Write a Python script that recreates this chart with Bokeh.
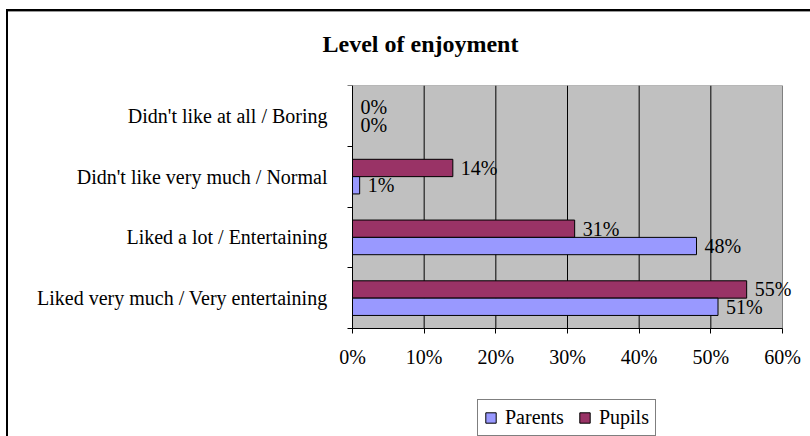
from bokeh.plotting import figure
from bokeh.models import (ColumnDataSource, Range1d, FixedTicker, LabelSet, Title,
                          Legend, LegendItem)
from bokeh.transform import dodge
from bokeh.core.properties import value
from bokeh.embed import file_html
from bokeh.resources import INLINE

# ---- data ----
categories = ["Liked very much / Very entertaining",
              "Liked a lot / Entertaining",
              "Didn't like very much / Normal",
              "Didn't like at all / Boring"]
parents = [51, 48, 1, 0]
pupils = [55, 31, 14, 0]
x_ticks = [0, 10, 20, 30, 40, 50, 60]
x_tick_labels = ["0%", "10%", "20%", "30%", "40%", "50%", "60%"]
series_names = ["Parents", "Pupils"]
title_text = "Level of enjoyment"

FONT = "Liberation Serif"
PARENTS_COLOR = "#9999FF"
PUPILS_COLOR = "#993366"
AREA_COLOR = "#C0C0C0"

n_cat = len(categories)
yc = [i + 0.5 for i in range(n_cat)]
bounds = [i for i in range(n_cat + 1)]
src = ColumnDataSource(dict(
    yc=yc, parents=parents, pupils=pupils,
    plab=[f"{v}%" for v in parents],
    ulab=[f"{v}%" for v in pupils],
))
grid_src = ColumnDataSource(dict(x=x_ticks[1:-1]))

BAR_H = 0.285
OFF = BAR_H / 2

# layout in pixels
W, H = 810, 436
TOP_PX = 85           # space above grey area (title)
LEFT_PX = 352         # space left of grey area (category labels)
AREA_W = 430          # grey plot area width
AREA_H = 243          # grey plot area height
x_min, x_max = x_ticks[0], x_ticks[-1]
ppu_x = AREA_W / (x_max - x_min)
ppu_y = AREA_H / n_cat
x_start = x_min - LEFT_PX / ppu_x
x_end = x_max + (W - LEFT_PX - AREA_W) / ppu_x
y_start = -(H - TOP_PX - AREA_H) / ppu_y

p = figure(output_backend="svg", toolbar_location=None,
           frame_width=W, frame_height=H - TOP_PX,
           min_border_left=0, min_border_right=0,
           min_border_top=TOP_PX, min_border_bottom=0,
           x_range=Range1d(x_start, x_end), y_range=Range1d(y_start, n_cat),
           background_fill_color=None, border_fill_color=None,
           outline_line_color=None)

# outer chart border (left and top edges visible)
p.styles = {
    "background-image": "linear-gradient(#000,#000), linear-gradient(#000,#000), linear-gradient(#999,#999)",
    "background-size": "2px 100%, 100% 2px, 100% 1px",
    "background-position": "6px 9px, 6px 9px, 8px 11px",
    "background-repeat": "no-repeat",
}

# grey plot area
p.quad(left=x_min, right=x_max, bottom=0, top=n_cat,
       fill_color=AREA_COLOR, line_color="#808080", line_width=1, level="image")
# vertical grid lines inside the plot area
p.segment(x0="x", x1="x", y0=0, y1=n_cat, line_color="black", line_width=1,
          source=grid_src, level="underlay")
p.xgrid.grid_line_color = None
p.ygrid.grid_line_color = None

r_pupils = p.hbar(y=dodge("yc", OFF), left=0, right="pupils", height=BAR_H,
                  fill_color=PUPILS_COLOR, line_color="black", line_width=1, source=src)
r_parents = p.hbar(y=dodge("yc", -OFF), left=0, right="parents", height=BAR_H,
                   fill_color=PARENTS_COLOR, line_color="black", line_width=1, source=src)

for fld, lab, off in (("pupils", "ulab", OFF), ("parents", "plab", -OFF)):
    ls = LabelSet(x=fld, y=dodge("yc", off), text=lab, source=src,
                  x_offset=8, text_align="left", text_baseline="middle",
                  text_font=value(FONT), text_font_size="20px", text_color="black")
    p.add_layout(ls)

# x axis (drawn at y = 0 inside the frame)
p.xaxis.fixed_location = 0
p.xaxis.ticker = FixedTicker(ticks=x_ticks)
p.xaxis.bounds = (x_min, x_max)
p.xaxis.major_label_overrides = {t: l for t, l in zip(x_ticks, x_tick_labels)}
p.xaxis.major_tick_out = 5
p.xaxis.major_tick_in = 0
p.xaxis.minor_tick_line_color = None
p.xaxis.major_label_standoff = 12
p.xaxis.axis_line_color = "black"
p.xaxis.major_tick_line_color = "black"
p.xaxis.major_label_text_font = FONT
p.xaxis.major_label_text_font_size = "20px"
p.xaxis.major_label_text_color = "black"

# y axis (drawn at x = 0 inside the frame)
p.yaxis.fixed_location = 0
p.yaxis.ticker = FixedTicker(ticks=yc, minor_ticks=bounds)
p.yaxis.bounds = (0, n_cat)
p.yaxis.major_label_overrides = {t: l for t, l in zip(yc, categories)}
p.yaxis.major_tick_out = 0
p.yaxis.major_tick_in = 0
p.yaxis.minor_tick_out = 5
p.yaxis.minor_tick_in = 0
p.yaxis.minor_tick_line_color = "black"
p.yaxis.major_label_standoff = 20
p.yaxis.axis_line_color = "black"
p.yaxis.major_label_text_font = FONT
p.yaxis.major_label_text_font_size = "20px"
p.yaxis.major_label_text_color = "black"

# title
p.add_layout(Title(text=title_text, align="left", offset=322, standoff=57,
                   text_font=FONT, text_font_size="24px", text_font_style="bold",
                   text_color="black"), "above")

legend = Legend(items=[LegendItem(label=series_names[0], renderers=[r_parents]),
                       LegendItem(label=series_names[1], renderers=[r_pupils])],
                orientation="horizontal", location=(477, 0),
                label_text_font=FONT, label_text_font_size="20px", label_text_color="black",
                glyph_width=13, glyph_height=13, label_standoff=8, spacing=14,
                padding=6, margin=0, border_line_color="black", border_line_width=1,
                background_fill_color="white", background_fill_alpha=1.0)
p.add_layout(legend, "center")

open("out.html", "w").write(file_html(p, INLINE))
